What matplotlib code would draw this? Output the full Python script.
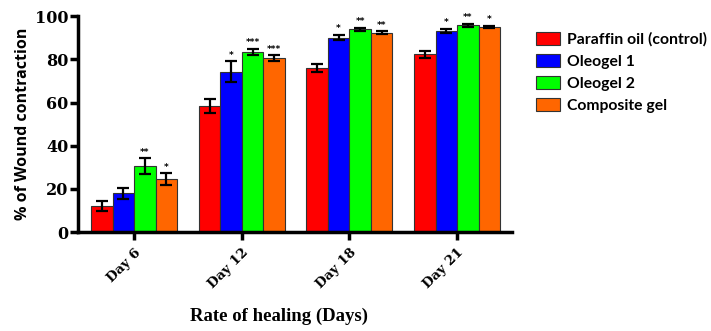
import matplotlib
matplotlib.use("Agg")
import matplotlib.pyplot as plt
import numpy as np

days = ["Day 6", "Day 12", "Day 18", "Day 21"]
groups = ["Paraffin oil (control)", "Oleogel 1", "Oleogel 2", "Composite gel"]
colors = ["#ff0000", "#0000ff", "#00ff00", "#ff6600"]

paraffin = [11.9, 58.4, 76.0, 82.4]
oleogel1 = [17.9, 74.3, 90.1, 93.2]
oleogel2 = [30.5, 83.5, 94.0, 95.8]
composite = [24.5, 80.6, 92.4, 95.0]

paraffin_err = [2.3, 3.2, 1.8, 1.6]
oleogel1_err = [2.5, 5.0, 1.3, 1.1]
oleogel2_err = [3.7, 1.5, 0.7, 0.8]
composite_err = [2.7, 1.3, 0.8, 0.6]

paraffin_sig = ["", "", "", ""]
oleogel1_sig = ["", "*", "*", "*"]
oleogel2_sig = ["**", "***", "**", "**"]
composite_sig = ["*", "***", "**", "*"]

values = [paraffin, oleogel1, oleogel2, composite]
errors = [paraffin_err, oleogel1_err, oleogel2_err, composite_err]
marks = [paraffin_sig, oleogel1_sig, oleogel2_sig, composite_sig]

fig = plt.figure(figsize=(7.11, 3.31), dpi=100)
ax = fig.add_axes([0.110, 0.299, 0.610, 0.652])

x = np.arange(len(days))
w = 0.2
handles = []
for i, (vals, errs, sig, c, name) in enumerate(zip(values, errors, marks, colors, groups)):
    pos = x + (i - 1.5) * w
    b = ax.bar(pos, vals, w, color=c, edgecolor="#333333", linewidth=0.8, label=name,
               yerr=errs, capsize=4.5, error_kw=dict(ecolor="black", elinewidth=1.6, capthick=1.6))
    handles.append(b)
    for p, v, e, s in zip(pos, vals, errs, sig):
        if s:
            ax.text(p, v + e + 0.6, s, ha="center", va="bottom", fontsize=6.5,
                    fontweight="bold", family="DejaVu Sans")

ax.set_xlim(-0.52, 3.51)
ax.set_ylim(0, 100)
ax.set_yticks([0, 20, 40, 60, 80, 100])
ax.set_yticklabels(["0", "20", "40", "60", "80", "100"], fontsize=11.5,
                   fontweight="bold", family="DejaVu Serif")
ax.set_xticks(x)
ax.set_xticklabels(days, rotation=45, ha="right", rotation_mode="anchor",
                   fontsize=9.5, fontweight="bold", family="DejaVu Serif")
for side in ["top", "right"]:
    ax.spines[side].set_visible(False)
for side in ["left", "bottom"]:
    ax.spines[side].set_linewidth(2.5)
ax.tick_params(axis="both", width=2.5, length=6, direction="out")
ax.tick_params(axis="y", pad=1)
ax.tick_params(axis="x", pad=4)

ax.set_ylabel("% of Wound contraction", fontsize=11.5, fontweight="bold",
              family="Open Sans")
ax.yaxis.set_label_coords(-0.108, 0.5)
fig.text(0.392, 0.043, "Rate of healing (Days)", ha="center", va="center",
         fontsize=13.5, fontweight="bold", family="Liberation Serif")

leg = fig.legend(handles=handles, labels=groups, loc="upper left",
                 bbox_to_anchor=(0.745, 0.922), frameon=False,
                 prop=dict(family="Lato", weight="bold", size=11.3),
                 handlelength=1.5, handleheight=0.9, handletextpad=0.45,
                 labelspacing=0.45, borderaxespad=0)
fig.savefig("out.png", dpi=100)
